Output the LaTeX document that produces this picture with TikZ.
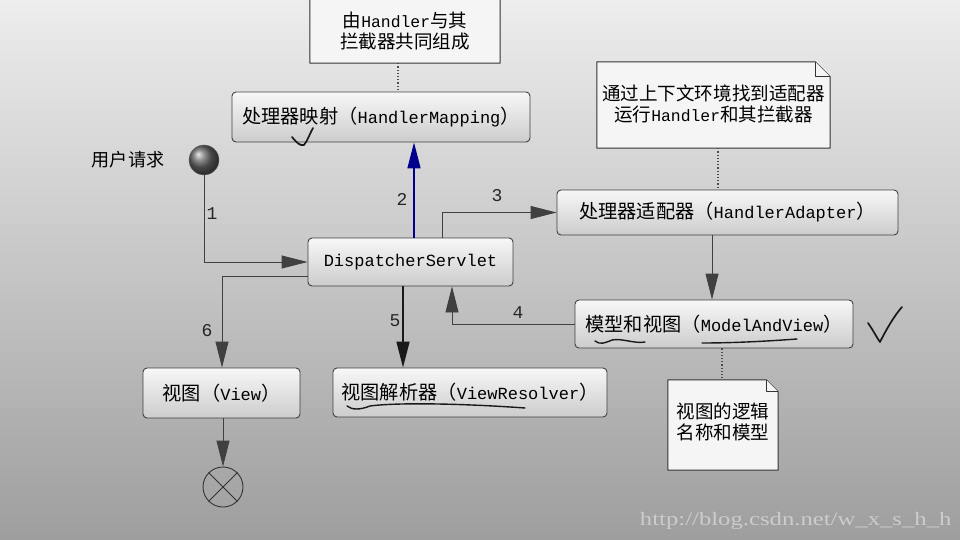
\documentclass[tikz,border=0pt]{standalone}
\usepackage{fontspec}
\setmainfont{Liberation Mono}
\newfontfamily\cjk[Scale=1.13]{Noto Sans CJK SC}
\newfontfamily\wmfont{Liberation Serif}
\usetikzlibrary{arrows.meta,calc}
\newcommand\zh[1]{{\cjk #1}}
\newcommand\notefold[2]{%
  \draw[noteline] (#1.south west) -- (#1.north west) -- ([xshift=-#2]#1.north east)
     -- ([yshift=-#2]#1.north east) -- (#1.south east) -- cycle;
  \draw[noteline,line width=0.7pt] ([xshift=-#2]#1.north east) -- ([xshift=-#2,yshift=-#2]#1.north east)
     -- ([yshift=-#2]#1.north east);}
\tikzset{
  box/.style={draw=black!75, line width=0.9pt, rounded corners=4pt,
    top color=black!3, bottom color=black!20, inner sep=0pt,
    font=\fontsize{17}{20}\selectfont, text=black},
  notebox/.style={inner sep=0pt},
  notetext/.style={align=center, font=\fontsize{16.4}{21}\selectfont, text=black},
  noteline/.style={draw=black!80, line width=1pt, fill=black!4, line join=round},
  flow/.style={draw=black!75, line width=0.9pt, -{Triangle[length=26pt,width=13pt]}},
  num/.style={font=\fontsize{18}{20}\selectfont, text=black!85},
  dotline/.style={draw=black!70, line width=1.2pt, dotted},
  ink/.style={draw=black!90, line width=1.7pt, line cap=round, line join=round},
}
\begin{document}
\begin{tikzpicture}[x=1pt,y=-1pt]
\useasboundingbox (0,0) rectangle (960,540);
\clip (0,0) rectangle (960,540);
\fill[top color=black!7, bottom color=black!38] (0,0) rectangle (960,540);

% notes
\node[notebox, minimum width=190pt, minimum height=90pt] (n1) at (405,18) {};
\notefold{n1}{14pt}
\node[notetext] (n1t) at (405,31) {\zh{由}Handler\zh{与其}\\\zh{拦截器共同组成}};

\node[notebox, minimum width=233pt, minimum height=86pt] (n2) at (713.5,105) {};
\notefold{n2}{15pt}
\node[notetext] (n2t) at (713.5,104) {\zh{通过上下文环境找到适配器}\\\zh{运行}Handler\zh{和其拦截器}};

\node[notebox, minimum width=110pt, minimum height=90pt] (n3) at (723,425) {};
\notefold{n3}{12pt}
\node[notetext] (n3t) at (723,422) {\zh{视图的逻辑}\\\zh{名称和模型}};

% boxes
\node[box, minimum width=298pt, minimum height=50pt] (hm) at (381,117) {\zh{处理器映射（}HandlerMapping\zh{）}};
\node[box, minimum width=205pt, minimum height=48pt] (ds) at (410.5,262) {DispatcherServlet};
\node[box, minimum width=341pt, minimum height=45pt] (ha) at (727.5,212.5) {\zh{处理器适配器（}HandlerAdapter\zh{）}};
\node[box, minimum width=278pt, minimum height=48pt] (mav) at (714,324) {\zh{模型和视图（}ModelAndView\zh{）}};
\node[box, minimum width=274pt, minimum height=49pt] (vr) at (470,392.5) {\zh{视图解析器（}ViewResolver\zh{）}};
\node[box, minimum width=157pt, minimum height=50pt] (view) at (221.5,393) {\zh{视图（}View\zh{）}};

% start / end
\node[circle, minimum size=30pt, inner sep=0pt, ball color=black!60, draw=black!60] (start) at (204,160) {};
\node[font=\fontsize{16}{18}\selectfont, text=black] (startlbl) at (128,160) {\zh{用户请求}};
\node[circle, draw=black!80, line width=0.9pt, minimum size=40pt, inner sep=0pt] (end) at (223,487) {};
\draw[black!80, line width=0.9pt] (end.north west) -- (end.south east) (end.north east) -- (end.south west);

% dotted links
\coordinate (d1) at (398,0);
\draw[dotline] (n1.south -| d1) -- (hm.north -| d1);
\coordinate (d2) at (718,0);
\draw[dotline] (n2.south -| d2) -- (ha.north -| d2);
\coordinate (d3) at (722,0);
\draw[dotline] (mav.south -| d3) -- (n3.north -| d3);

% flows
\draw[flow] (start.south) |- (ds.west);
\node[num] (l1) at (212,214) {1};

\coordinate (x2) at (414,0);
\draw[flow, draw=blue!55!black, line width=1.6pt] (ds.north -| x2) -- (hm.south -| x2);
\node[num] (l2) at (402,199) {2};

\coordinate (x3) at (442,0);
\draw[flow] (ds.north -| x3) |- (ha.west);
\node[num] (l3) at (497,196) {3};

\coordinate (x4) at (712,0);
\draw[flow] (ha.south -| x4) -- (mav.north -| x4);

\coordinate (x5) at (452,0);
\draw[flow] (mav.west) -| (ds.south -| x5);
\node[num] (l4) at (518,313) {4};

\coordinate (x6) at (403,0);
\draw[flow, draw=black!90, line width=1.5pt] (ds.south -| x6) -- (vr.north -| x6);
\node[num] (l5) at (395,321) {5};

\coordinate (y7) at (0,276);
\coordinate (x7) at (222,0);
\draw[flow] (ds.west |- y7) -| (view.north -| x7);
\node[num] (l6) at (207,331) {6};

\draw[flow] (view.south -| end) -- (end.north);

% handwritten marks
\draw[ink] (292,137) .. controls (297,143) and (300,146) .. (304,145) .. controls (308,140) and (310,133) .. (313,128);
\draw[ink] (868,323) .. controls (873,330) and (877,338) .. (880,342) .. controls (886,330) and (894,316) .. (902,307);
\draw[ink, line width=1.4pt] (595,341) .. controls (600,345) and (605,343) .. (612,340) .. controls (622,338) and (635,344) .. (645,342);
\draw[ink, line width=1.4pt] (702,343) .. controls (735,343) and (770,341) .. (797,339);
\draw[ink, line width=1.4pt] (347,406) .. controls (352,410) and (360,410) .. (370,406) .. controls (400,402) and (470,404) .. (525,408);

% watermark
\node[font=\wmfont\fontsize{19}{20}\selectfont, text=white!80!black, anchor=east] (wm) at (955,521) {\scalebox{1.3}[1]{http://blog.csdn.net/w\_x\_s\_h\_h}};
\end{tikzpicture}
\end{document}
